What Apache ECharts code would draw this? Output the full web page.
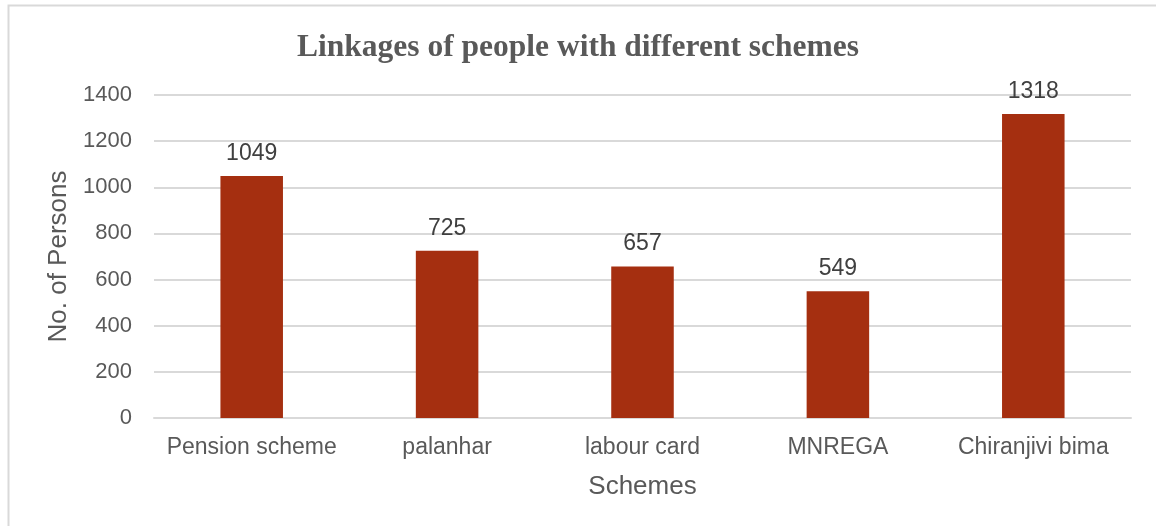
<!DOCTYPE html>
<html>
<head>
    <meta charset="utf-8">
    <style>
        body { margin: 0; background: #fff; }
        #main { width: 1156px; height: 526px; }
    </style>
    <script src="https://cdn.jsdelivr.net/npm/echarts@6/dist/echarts.min.js"></script>
</head>
<body>
    <div id="main"></div>
    <script type="text/javascript">
        var schemes = ['Pension scheme', 'palanhar', 'labour card', 'MNREGA', 'Chiranjivi bima'];
        var persons = [1049, 725, 657, 549, 1318];

        var myChart = echarts.init(document.getElementById('main'));

        var option = {
            backgroundColor: '#fff',
            animation: false,
            graphic: [{
                // chart-area frame, cut off on the right and bottom
                type: 'rect',
                shape: { x: 8.5, y: 5.5, width: 1200, height: 560 },
                style: { fill: 'none', stroke: '#d9d9d9', lineWidth: 2 }
            }],
            title: {
                text: 'Linkages of people with different schemes',
                left: 'center',
                top: 27,
                textStyle: {
                    fontFamily: 'Liberation Serif',
                    fontWeight: 'bold',
                    fontSize: 31.5,
                    color: '#595959'
                }
            },
            grid: {
                left: 154,
                right: 25,
                top: 95,
                bottom: 108
            },
            xAxis: {
                type: 'category',
                data: schemes,
                name: 'Schemes',
                nameLocation: 'middle',
                nameGap: 56,
                nameTextStyle: { fontFamily: 'Liberation Sans', fontSize: 26, color: '#595959' },
                axisLine: { lineStyle: { color: '#d9d9d9', width: 2 } },
                axisTick: { show: false },
                axisLabel: {
                    interval: 0,
                    fontFamily: 'Liberation Sans', fontSize: 23, color: '#595959', margin: 18
                }
            },
            yAxis: {
                type: 'value',
                min: 0,
                max: 1400,
                interval: 200,
                name: 'No. of Persons',
                nameLocation: 'middle',
                nameGap: 80,
                nameTextStyle: { fontFamily: 'Liberation Sans', fontSize: 26, color: '#595959' },
                axisLine: { show: false },
                axisTick: { show: false },
                axisLabel: {
                    fontFamily: 'Liberation Sans', fontSize: 22, color: '#595959', margin: 22,
                    formatter: function (v) { return String(v); }
                },
                splitLine: { lineStyle: { color: '#d9d9d9', width: 2 } }
            },
            series: [{
                type: 'bar',
                data: persons,
                barWidth: '32%',
                itemStyle: { color: '#A52F10' },
                label: {
                    show: true,
                    position: 'top',
                    distance: 11,
                    fontFamily: 'Liberation Sans',
                    fontSize: 23,
                    color: '#404040'
                }
            }]
        };

        myChart.setOption(option);
    </script>
</body>
</html>
